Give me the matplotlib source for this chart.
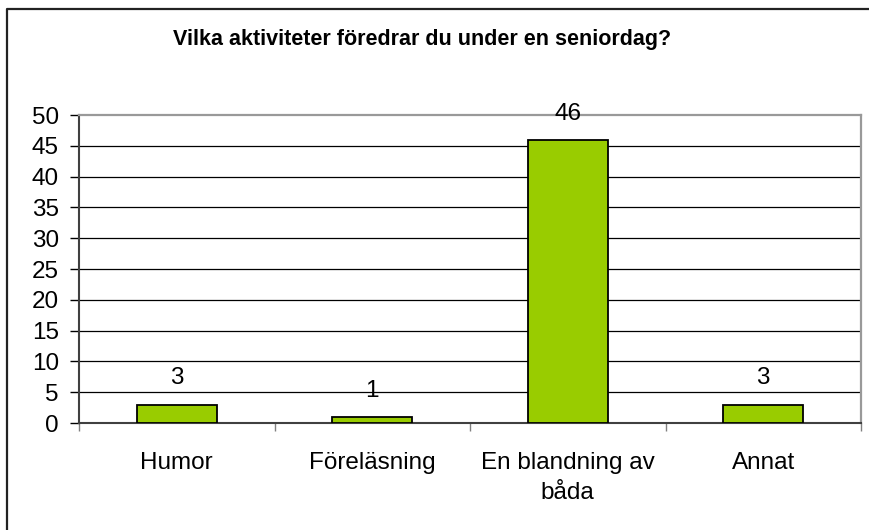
import matplotlib.pyplot as plt
from matplotlib.lines import Line2D
import numpy as np

plt.rcParams["font.family"] = ["Liberation Sans", "DejaVu Sans"]

TITLE = "Vilka aktiviteter föredrar du under en seniordag?"
categories = ["Humor", "Föreläsning", "En blandning av\nbåda", "Annat"]
counts = [3, 1, 46, 3]
y_ticks = list(range(0, 51, 5))

W, H = 870, 530
fig = plt.figure(figsize=(W / 100, H / 100), dpi=100)

# plot area in pixel terms
left, right, top, bottom = 79, 861, 115, 423
ax = fig.add_axes([left / W, 1 - bottom / H, (right - left) / W, (bottom - top) / H])

x = np.arange(len(categories))
ax.bar(x, counts, width=0.41, color="#99CC00", edgecolor="black", linewidth=1.3, zorder=3)

for xi, v in zip(x, counts):
    ax.annotate(str(v), (xi, v), xytext=(0, 14.5), textcoords="offset points",
                ha="center", va="baseline", fontsize=17.5, zorder=4)

ax.set_xlim(-0.5, len(categories) - 0.5)
ax.set_ylim(0, 50)
ax.set_yticks(y_ticks)
ax.tick_params(axis="y", labelsize=17.5, length=6.5, width=1, pad=8, color="black")

# category labels sit between boundary ticks
ax.set_xticks(np.arange(len(categories) + 1) - 0.5)
ax.set_xticklabels([])
ax.set_xticks(x, minor=True)
ax.set_xticklabels(categories, minor=True, fontsize=17.5, linespacing=1.45)
ax.tick_params(axis="x", which="major", length=6, width=1, color="#808080")
ax.tick_params(axis="x", which="minor", length=0, pad=21)

for yv in y_ticks[1:-1]:
    ax.axhline(yv, color="black", linewidth=0.9, zorder=1)

ax.spines["top"].set_color("#999999")
ax.spines["top"].set_linewidth(1.6)
ax.spines["right"].set_color("#999999")
ax.spines["right"].set_linewidth(1.6)
ax.spines["left"].set_color("#404040")
ax.spines["left"].set_linewidth(1.5)
ax.spines["bottom"].set_color("#404040")
ax.spines["bottom"].set_linewidth(1.5)

fig.text(0.5 - 13 / W, 1 - 40 / H, TITLE, ha="center", va="center",
         fontsize=15.5, fontweight="bold")

# chart frame, only its left and top edges fall inside the canvas
bx, by = 7 / W, 1 - 9 / H
fig.add_artist(Line2D([bx, bx, 1.0], [0.0, by, by], color="#222222",
                      linewidth=1.6, transform=fig.transFigure))

fig.savefig("out.png", dpi=100)
